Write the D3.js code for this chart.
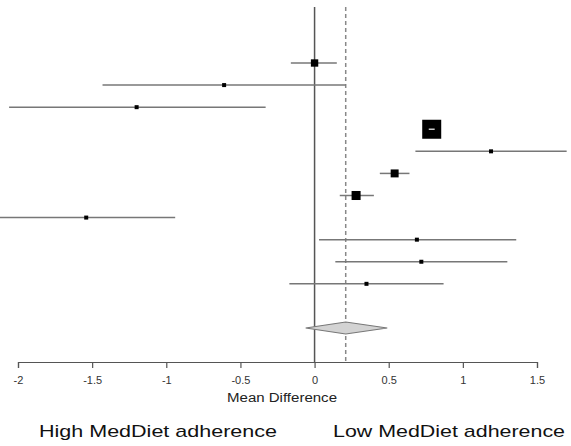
<!DOCTYPE html>
<html>
<head>
<meta charset="utf-8">
<script src="https://cdn.jsdelivr.net/npm/d3@7/dist/d3.min.js"></script>
<style>
  html, body { margin: 0; padding: 0; background: #fff; }
  svg { display: block; }
</style>
</head>
<body>
<script>
// ---- data ----
const studyMean = [0.00, -0.61, -1.20, 0.79, 1.19, 0.54, 0.28, -1.54, 0.69, 0.72, 0.35];
const ciLow     = [-0.16, -1.43, -2.06, 0.77, 0.68, 0.44, 0.17, -2.20, 0.03, 0.14, -0.17];
const ciHigh    = [0.15, 0.21, -0.33, 0.81, 1.70, 0.64, 0.40, -0.94, 1.36, 1.30, 0.87];
const weights   = [6, 0.3, 0.3, 40, 0.3, 7, 9, 0.3, 0.3, 0.3, 0.3];
const pooled    = { mean: 0.21, low: -0.06, high: 0.49 };
const xTicks    = [-2, -1.5, -1, -0.5, 0, 0.5, 1, 1.5];
const xTitle    = "Mean Difference";
const leftLabel = "High MedDiet adherence";
const rightLabel = "Low MedDiet adherence";

// ---- layout ----
const W = 571, H = 446;
const FONT = "Liberation Sans, Arial, sans-serif";
const svg = d3.select("body").append("svg").attr("width", W).attr("height", H);

const x = d3.scaleLinear().domain([-2, 1.5]).range([18, 537]);
const y = d3.scaleLinear().domain([0, 12]).range([63, 328]);
const size = d3.scaleSqrt().domain([0, 40]).range([0, 19]);
const axisY = 362, topY = 7;
const lineCol = "#777";

// reference lines
svg.append("line").attr("x1", x(0)).attr("x2", x(0)).attr("y1", topY).attr("y2", axisY)
  .attr("stroke", "#555").attr("stroke-width", 1.5);
svg.append("line").attr("x1", x(pooled.mean)).attr("x2", x(pooled.mean)).attr("y1", topY).attr("y2", axisY)
  .attr("stroke", "#888").attr("stroke-width", 1.5).attr("stroke-dasharray", "4,3");

// studies
const rows = studyMean.map((m, i) => ({ i, m, lo: ciLow[i], hi: ciHigh[i], w: weights[i] }));
const g = svg.append("g");
rows.forEach(d => {
  const s = Math.max(4, size(d.w));
  const cy = y(d.i);
  const inside = (x(d.hi) - x(d.lo)) < s;
  if (!inside) {
    g.append("line").attr("x1", x(d.lo)).attr("x2", x(d.hi)).attr("y1", cy).attr("y2", cy)
      .attr("stroke", lineCol).attr("stroke-width", 1.5);
  }
  g.append("rect").attr("x", x(d.m) - s / 2).attr("y", cy - s / 2).attr("width", s).attr("height", s)
    .attr("fill", "#000");
  if (inside) {
    g.append("line").attr("x1", x(d.lo)).attr("x2", x(d.hi)).attr("y1", cy).attr("y2", cy)
      .attr("stroke", "#ccc").attr("stroke-width", 1.5);
  }
});

// pooled diamond
const dy = y(12);
svg.append("polygon")
  .attr("points", [[x(pooled.low), dy], [x(pooled.mean), dy - 6], [x(pooled.high), dy], [x(pooled.mean), dy + 6]].map(p => p.join(",")).join(" "))
  .attr("fill", "#d3d3d3").attr("stroke", "#777").attr("stroke-width", 1.2);

// axis
const axis = d3.axisBottom(x).tickValues(xTicks).tickSize(6).tickPadding(8).tickFormat(d => String(d));
const ag = svg.append("g").attr("transform", `translate(0,${axisY})`).call(axis);
ag.select(".domain").attr("stroke", "#555").attr("stroke-width", 1.2);
ag.selectAll(".tick line").attr("stroke", "#555").attr("stroke-width", 1.2);
ag.selectAll(".tick text").attr("font-family", FONT).attr("font-size", 11).attr("fill", "#333");

svg.append("text").attr("x", 282).attr("y", 402).attr("text-anchor", "middle")
  .attr("font-family", FONT).attr("font-size", 12).attr("fill", "#222")
  .attr("textLength", 110).attr("lengthAdjust", "spacingAndGlyphs").text(xTitle);

svg.append("text").attr("x", 39).attr("y", 437)
  .attr("font-family", FONT).attr("font-size", 17).attr("fill", "#111")
  .attr("textLength", 238).attr("lengthAdjust", "spacingAndGlyphs").text(leftLabel);
svg.append("text").attr("x", 333).attr("y", 437)
  .attr("font-family", FONT).attr("font-size", 17).attr("fill", "#111")
  .attr("textLength", 232).attr("lengthAdjust", "spacingAndGlyphs").text(rightLabel);
</script>
</body>
</html>
